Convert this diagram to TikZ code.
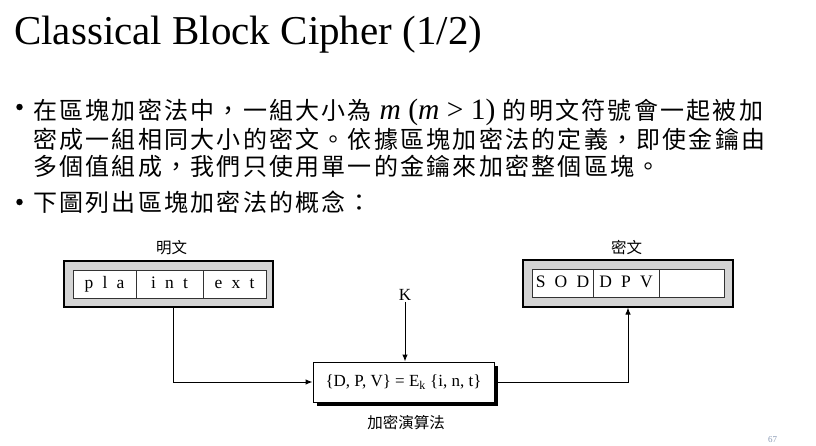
\documentclass[tikz,border=0pt]{standalone}
\usepackage{fontspec}
\setmainfont{Liberation Serif}
\newfontfamily\cjk{Noto Sans CJK TC}
\newfontfamily\cjkbody[LetterSpace=9.3]{Noto Sans CJK TC}
\newfontfamily\cellfont[WordSpace=2.1]{Liberation Serif}
\definecolor{pagegray}{HTML}{8A9AB5}
\usetikzlibrary{arrows.meta,shadows}

\begin{document}
\begin{tikzpicture}[
x=1pt,y=-1pt,
outer/.style={
  draw=black,
  line width=1.1pt,
  fill=black!17,
  inner sep=0pt
},
cell/.style={
  draw=black!80,
  line width=0.9pt,
  fill=white,
  inner sep=0pt,
  minimum height=28pt,
  text height=11.5pt,
  text depth=3.5pt,
  font=\cellfont\fontsize{17.5}{17.5}\selectfont
},
algobox/.style={
  draw=black,
  line width=1pt,
  fill=white,
  minimum width=181pt,
  minimum height=40pt,
  drop shadow={shadow xshift=3.5pt,shadow yshift=-3.5pt,fill=black,opacity=1},
  font=\fontsize{17}{17}\selectfont
},
caption/.style={font=\cjk\fontsize{15.5}{15.5}\selectfont},
bodyline/.style={anchor=base west,inner sep=0pt,font=\cjkbody\fontsize{24}{24}\selectfont},
dot/.style={circle,fill=black,inner sep=0pt,minimum size=6.5pt},
flow/.style={draw,line width=1pt,-{Latex[length=7pt,width=5.5pt]}}
]
\useasboundingbox (0,0) rectangle (816,445);

% title and text
\node (title) at (14,44) [anchor=base west,inner sep=0pt,font=\fontsize{41}{41}\selectfont] {Classical Block Cipher (1/2)};

\node (dot1) at (19.5,107) [dot] {};
\node (line1) at (33,119) [bodyline] {在區塊加密法中，一組大小為 {\rmfamily\fontsize{29.5}{29.5}\selectfont\textit{m} (\textit{m} > 1)} 的明文符號會一起被加};
\node (line2) at (33,148) [bodyline] {密成一組相同大小的密文。依據區塊加密法的定義，即使金鑰由};
\node (line3) at (33,175) [bodyline] {多個值組成，我們只使用單一的金鑰來加密整個區塊。};
\node (dot2) at (19.5,202) [dot] {};
\node (line4) at (33,211.5) [bodyline] {下圖列出區塊加密法的概念：};

% plaintext block
\node (plainbox) at (168.5,284) [outer,minimum width=209pt,minimum height=46pt] {};
\node (pla) at (104.5,284) [cell,minimum width=63pt] {p l a};
\node (int) at (169.5,284) [cell,minimum width=67pt] {i n t};
\node (ext) at (234.5,284) [cell,minimum width=63pt] {e x t};
\node (plainlabel) at (171.5,248) [caption] {明文};

% ciphertext block
\node (cipherbox) at (628,283.5) [outer,minimum width=210pt,minimum height=47pt] {};
\node (sod) at (562.5,283.5) [cell,minimum width=61pt] {S O D};
\node (dpv) at (626,283.5) [cell,minimum width=66pt] {D P V};
\node (blank) at (691.5,283.5) [cell,minimum width=65pt] {};
\node (cipherlabel) at (626.5,248) [caption] {密文};

% algorithm
\node (key) at (405,295) [inner sep=1pt,font=\fontsize{17}{17}\selectfont] {K};
\node (algo) at (403.5,382) [algobox] {\{D, P, V\} = E\textsubscript{k} \{i, n, t\}};
\node (algolabel) at (406,423) [caption] {加密演算法};

\draw [flow] ([xshift=4.5pt]plainbox.south) |- (algo.west);
\draw [flow] (algo.east) -| (cipherbox.south);
\draw [flow] (key) -- (key |- algo.north);

\node (pagenum) at (772.5,440) [text=pagegray,font=\fontsize{9}{9}\selectfont] {67};

\end{tikzpicture}
\end{document}
